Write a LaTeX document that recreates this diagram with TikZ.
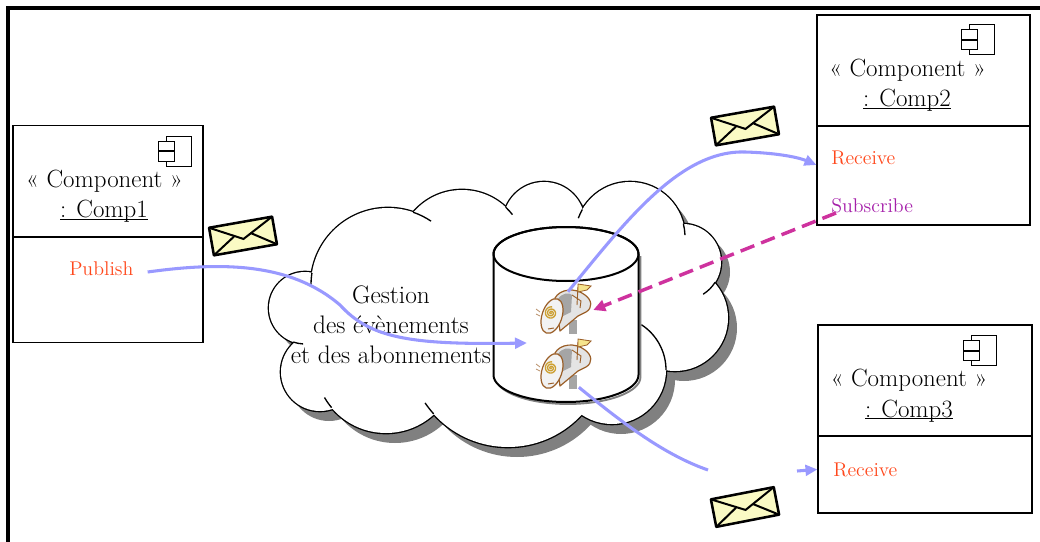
\documentclass[tikz,border=0pt]{standalone}
\usepackage{fontspec}
\usetikzlibrary{arrows.meta,calc}

\definecolor{flowblue}{RGB}{153,153,255}
\definecolor{subpink}{RGB}{206,50,158}
\definecolor{opred}{RGB}{255,72,28}
\definecolor{oppurple}{RGB}{165,32,170}
\definecolor{envfill}{RGB}{250,250,196}
\definecolor{shadowgray}{RGB}{128,128,128}
\definecolor{mailbrown}{RGB}{155,95,40}
\definecolor{flagyellow}{RGB}{246,228,140}
\definecolor{spiralgold}{RGB}{205,160,50}
\definecolor{mailgray}{RGB}{228,228,228}
\definecolor{doorgray}{RGB}{165,165,165}

% underlined instance name, rule close to the baseline
\newcommand\ulname[1]{\setbox0\hbox{#1}\rlap{\rule[-1.6pt]{\wd0}{0.6pt}}\box0}

\tikzset{
  compbox/.style 2 args={draw, line width=0.8pt, minimum width=#1, minimum height=#2, inner sep=0pt},
  stereo/.style={anchor=base, inner sep=0pt, font=\fontsize{18.7pt}{21pt}\selectfont},
  oplabel/.style={anchor=base west, inner sep=0pt, font=\fontsize{14.9pt}{17pt}\selectfont},
  flow/.style={draw=flowblue, line width=2.3pt, -{Triangle[length=9pt,width=8pt]}},
  subscribeflow/.style={draw=subpink, line width=2.6pt, dash pattern=on 11pt off 5.5pt,
    -{Triangle[length=9pt,width=8.5pt]}},
  mailslot/.style={inner sep=0pt, minimum width=40.5pt, minimum height=33pt},
  compicon/.pic={
    \draw[line width=0.7pt, fill=white] (-12.5,-15) rectangle (12.5,15);
    \draw[line width=0.7pt, fill=white] (-20.5,-10) rectangle (-4.5,-0.5);
    \draw[line width=0.7pt, fill=white] (-20.5,0.5) rectangle (-4.5,10);
  },
  envelope/.pic={
    \draw[line width=1.9pt, fill=envfill, line join=round] (-32,-14) rectangle (32,14);
    \draw[line width=1.5pt, line cap=round] (-32,-14) -- (0,3) -- (32,-14);
    \draw[line width=1.5pt, line cap=round] (-32,14) -- (-9,-1) (32,14) -- (9,-1);
  },
  mailbox/.pic={
    % post
    \fill[doorgray] (3,10) rectangle (11,24);
    % tube of the box
    \draw[mailbrown, line width=0.9pt, fill=mailgray, line join=round]
      (-11,-12) .. controls (-6,-21) and (9,-23) .. (19,-15)
      .. controls (26,-10) and (27,-2) .. (20,2) -- (12,6) -- (-6,21) -- cycle;
    % open door
    \fill[doorgray] (-8,-11) .. controls (-4,-17) and (3,-18) .. (6,-15)
      -- (5,2) -- (-3,6) -- cycle;
    \draw[mailbrown, line width=0.7pt] (6,-15) -- (15,-9) -- (14,-2);
    % front face
    \draw[mailbrown, line width=0.9pt, fill=mailgray!50!white, rotate around={-18:(-14,6)}]
      (-14,6) ellipse[x radius=10, y radius=18];
    % swirl on the front
    \draw[spiralgold, line width=1pt] plot[domain=0:1000, samples=90, smooth, variable=\t]
      ({-15+0.0062*\t*cos(\t)}, {3+0.0062*\t*sin(\t)});
    \draw[mailbrown, line width=0.7pt] (-18,19) -- (-12,18);
    % motion strokes
    \draw[mailbrown!70, line width=0.6pt] (-30,-1) -- (-26,2) (-30,4) -- (-26,6);
    % flag
    \draw[mailbrown, line width=0.7pt] (12,-23) -- (11,-5);
    \draw[mailbrown, line width=0.6pt, fill=flagyellow] (12,-26) -- (25,-24) -- (21,-20) -- (12,-18) -- cycle;
  }
}

\begin{document}
\begin{tikzpicture}[x=0.75pt, y=-0.75pt]
\useasboundingbox (0,0) rectangle (1040,542);

% outer frame
\draw[line width=2.4pt] (8,542) -- (8,8) -- (1040,8);

% ---------- cloud: union of puffs with a drop shadow ----------
\def\puffs{305/308/36, 388/285/77, 462/254/64, 544/223/41, 630/237/55, 683/262/38,
  675/318/53, 612/370/54, 508/347/100, 386/362/71, 320/372/39}
\foreach \cx/\cy/\r in \puffs { \fill[shadowgray] (\cx+9,\cy+10) circle[radius=\r]; }
\foreach \cx/\cy/\r in \puffs { \draw[line width=2pt] (\cx,\cy) circle[radius=\r]; }
\foreach \cx/\cy/\r in \puffs { \fill[white] (\cx,\cy) circle[radius=\r]; }
% body of the cloud between the puffs
\fill[white] (420,240) -- (600,215) -- (690,260) -- (700,320) -- (650,390) -- (520,420) -- (400,380) -- cycle;
% inner ends of overlapping puffs
\foreach \cx/\cy/\r/\a/\b in {388/285/77/-71/-56, 462/254/64/-47/-38, 630/237/55/210/200,
  630/237/55/-14/-2, 683/262/38/32/58, 612/370/54/-57/0, 508/347/100/138/146,
  386/362/71/140/150, 305/308/36/109/93, 388/285/77/189/179}
  { \draw[line width=1pt] ([shift={(\a:\r)}]\cx,\cy) arc[start angle=\a, end angle=\b, radius=\r]; }

% ---------- event store ----------
\draw[shadowgray, line width=1.4pt, shift={(2,2)}]
  (493.5,254) -- (493.5,375) arc[start angle=180, end angle=0, x radius=72.5, y radius=27] -- (638.5,254);
\draw[line width=1.5pt, fill=white]
  (493.5,254) -- (493.5,375) arc[start angle=180, end angle=0, x radius=72.5, y radius=27]
  -- (638.5,254) arc[start angle=0, end angle=-180, x radius=72.5, y radius=27] -- cycle;
\draw[line width=1.5pt] (566,254) ellipse[x radius=72.5, y radius=27];

\node[mailslot] (mail1) at (566,310) {};
\node[mailslot] (mail2) at (566,365) {};
\pic at (mail1.center) {mailbox};
\pic at (mail2.center) {mailbox};

\node[align=center, inner sep=0pt, font=\fontsize{19pt}{22.5pt}\selectfont]
  (gestion) at (391,325) {Gestion\\des évènements\\et des abonnements};

% ---------- components ----------
\node[compbox={142.5pt}{162.75pt}] (comp1) at (108,234) {};
\draw[line width=0.8pt] (comp1.west |- 0,237) -- (comp1.east |- 0,237);
\pic at (178.5,151) {compicon};
\node[stereo] (st1) at (104.5,187) {« Component »};
\node[stereo] (nm1) at (104,218) {\ulname{: Comp1}};
\node[oplabel, text=opred] (pub) at (69,275) {Publish};

\node[compbox={159.75pt}{157.5pt}] (comp2) at (923.5,120) {};
\draw[line width=0.8pt] (comp2.west |- 0,126) -- (comp2.east |- 0,126);
\pic at (982,39.5) {compicon};
\node[stereo] (st2) at (907.5,77) {« Component »};
\node[stereo] (nm2) at (907,107) {\ulname{: Comp2}};
\node[oplabel, text=opred] (rec2) at (831,165) {Receive};
\node[oplabel, text=oppurple] (sub) at (831,213) {Subscribe};

\node[compbox={160.5pt}{141pt}] (comp3) at (925,419) {};
\draw[line width=0.8pt] (comp3.west |- 0,436) -- (comp3.east |- 0,436);
\pic at (983.5,350.5) {compicon};
\node[stereo] (st3) at (909,386) {« Component »};
\node[stereo] (nm3) at (909,417) {\ulname{: Comp3}};
\node[oplabel, text=opred] (rec3) at (833,476) {Receive};

% ---------- messages ----------
\pic[rotate=10] at (243,236) {envelope};
\pic[rotate=10] at (745,126) {envelope};
\pic[rotate=11] at (745,507) {envelope};

% ---------- connectors ----------
\coordinate (inlet) at (527,343);
\coordinate (outgap) at (708,470);
\coordinate (ingap) at (797,471);

\draw[flow] ($(pub.base east)+(14,-3)$) .. controls (220,262) and (290,262) .. (340,305)
  .. controls (370,338) and (410,345) .. (inlet);
\draw[flow] ($(mail1.north)+(2,4)$) .. controls (625,222) and (680,150) .. (745,152)
  .. controls (780,153) and (800,158) .. (comp2.west |- rec2.base);
\draw[flowblue, line width=2.3pt] (mail2.300) .. controls (625,425) and (665,455) .. (outgap);
\draw[flow] (ingap) -- (comp3.west |- rec3.west);
\draw[subscribeflow] ($(sub.base west)+(5,0)$) -- (mail1.east);
\end{tikzpicture}
\end{document}
